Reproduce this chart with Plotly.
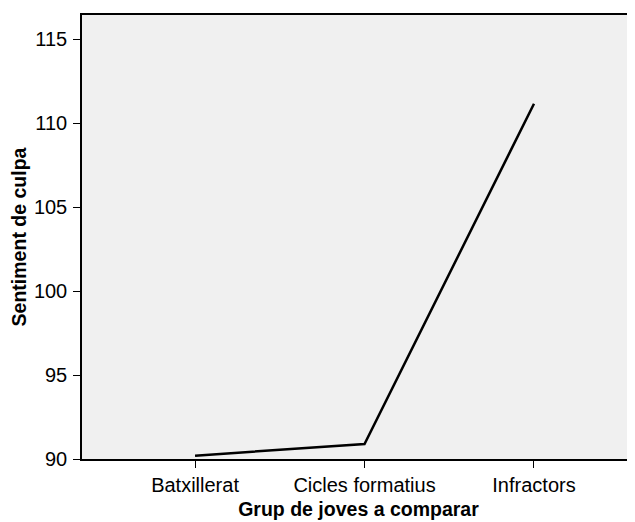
import plotly.graph_objects as go

categories = ["Batxillerat", "Cicles formatius", "Infractors"]
values = [90.2, 90.89, 111.15]
y_ticks = [90, 95, 100, 105, 110, 115]

fig = go.Figure()
fig.add_trace(go.Scatter(
    x=categories, y=values, mode="lines",
    line=dict(color="black", width=2.5),
    hoverinfo="skip", showlegend=False,
))

font = "Liberation Sans, Arial, sans-serif"
# The page body has an 8px margin, so the figure is sized/offset to compensate.
fig.update_layout(
    width=627, height=514,
    margin=dict(l=74, r=0, t=7, b=63),
    paper_bgcolor="white",
    plot_bgcolor="#f0f0f0",
    font=dict(family=font, size=20, color="black"),
    xaxis=dict(
        type="category",
        range=[-0.667, 2.596],
        automargin=False,
        showgrid=False, zeroline=False,
        showline=True, linecolor="black", linewidth=1.5, mirror=True,
        ticks="outside", ticklen=7, tickwidth=1, tickcolor="black",
        tickfont=dict(size=20),
        title=dict(text="<b>Grup de joves a comparar</b>", font=dict(size=19.5), standoff=8),
    ),
    yaxis=dict(
        range=[90, 116.43],
        tickvals=y_ticks,
        automargin=False,
        showgrid=False, zeroline=False,
        showline=True, linecolor="black", linewidth=1.5,
        ticks="outside", ticklen=7, tickwidth=1, tickcolor="black",
        ticklabelstandoff=2,
        tickfont=dict(size=20),
        title=dict(text="<b>Sentiment de culpa</b>", font=dict(size=19.5), standoff=13),
    ),
)

fig.write_html("out.html")
